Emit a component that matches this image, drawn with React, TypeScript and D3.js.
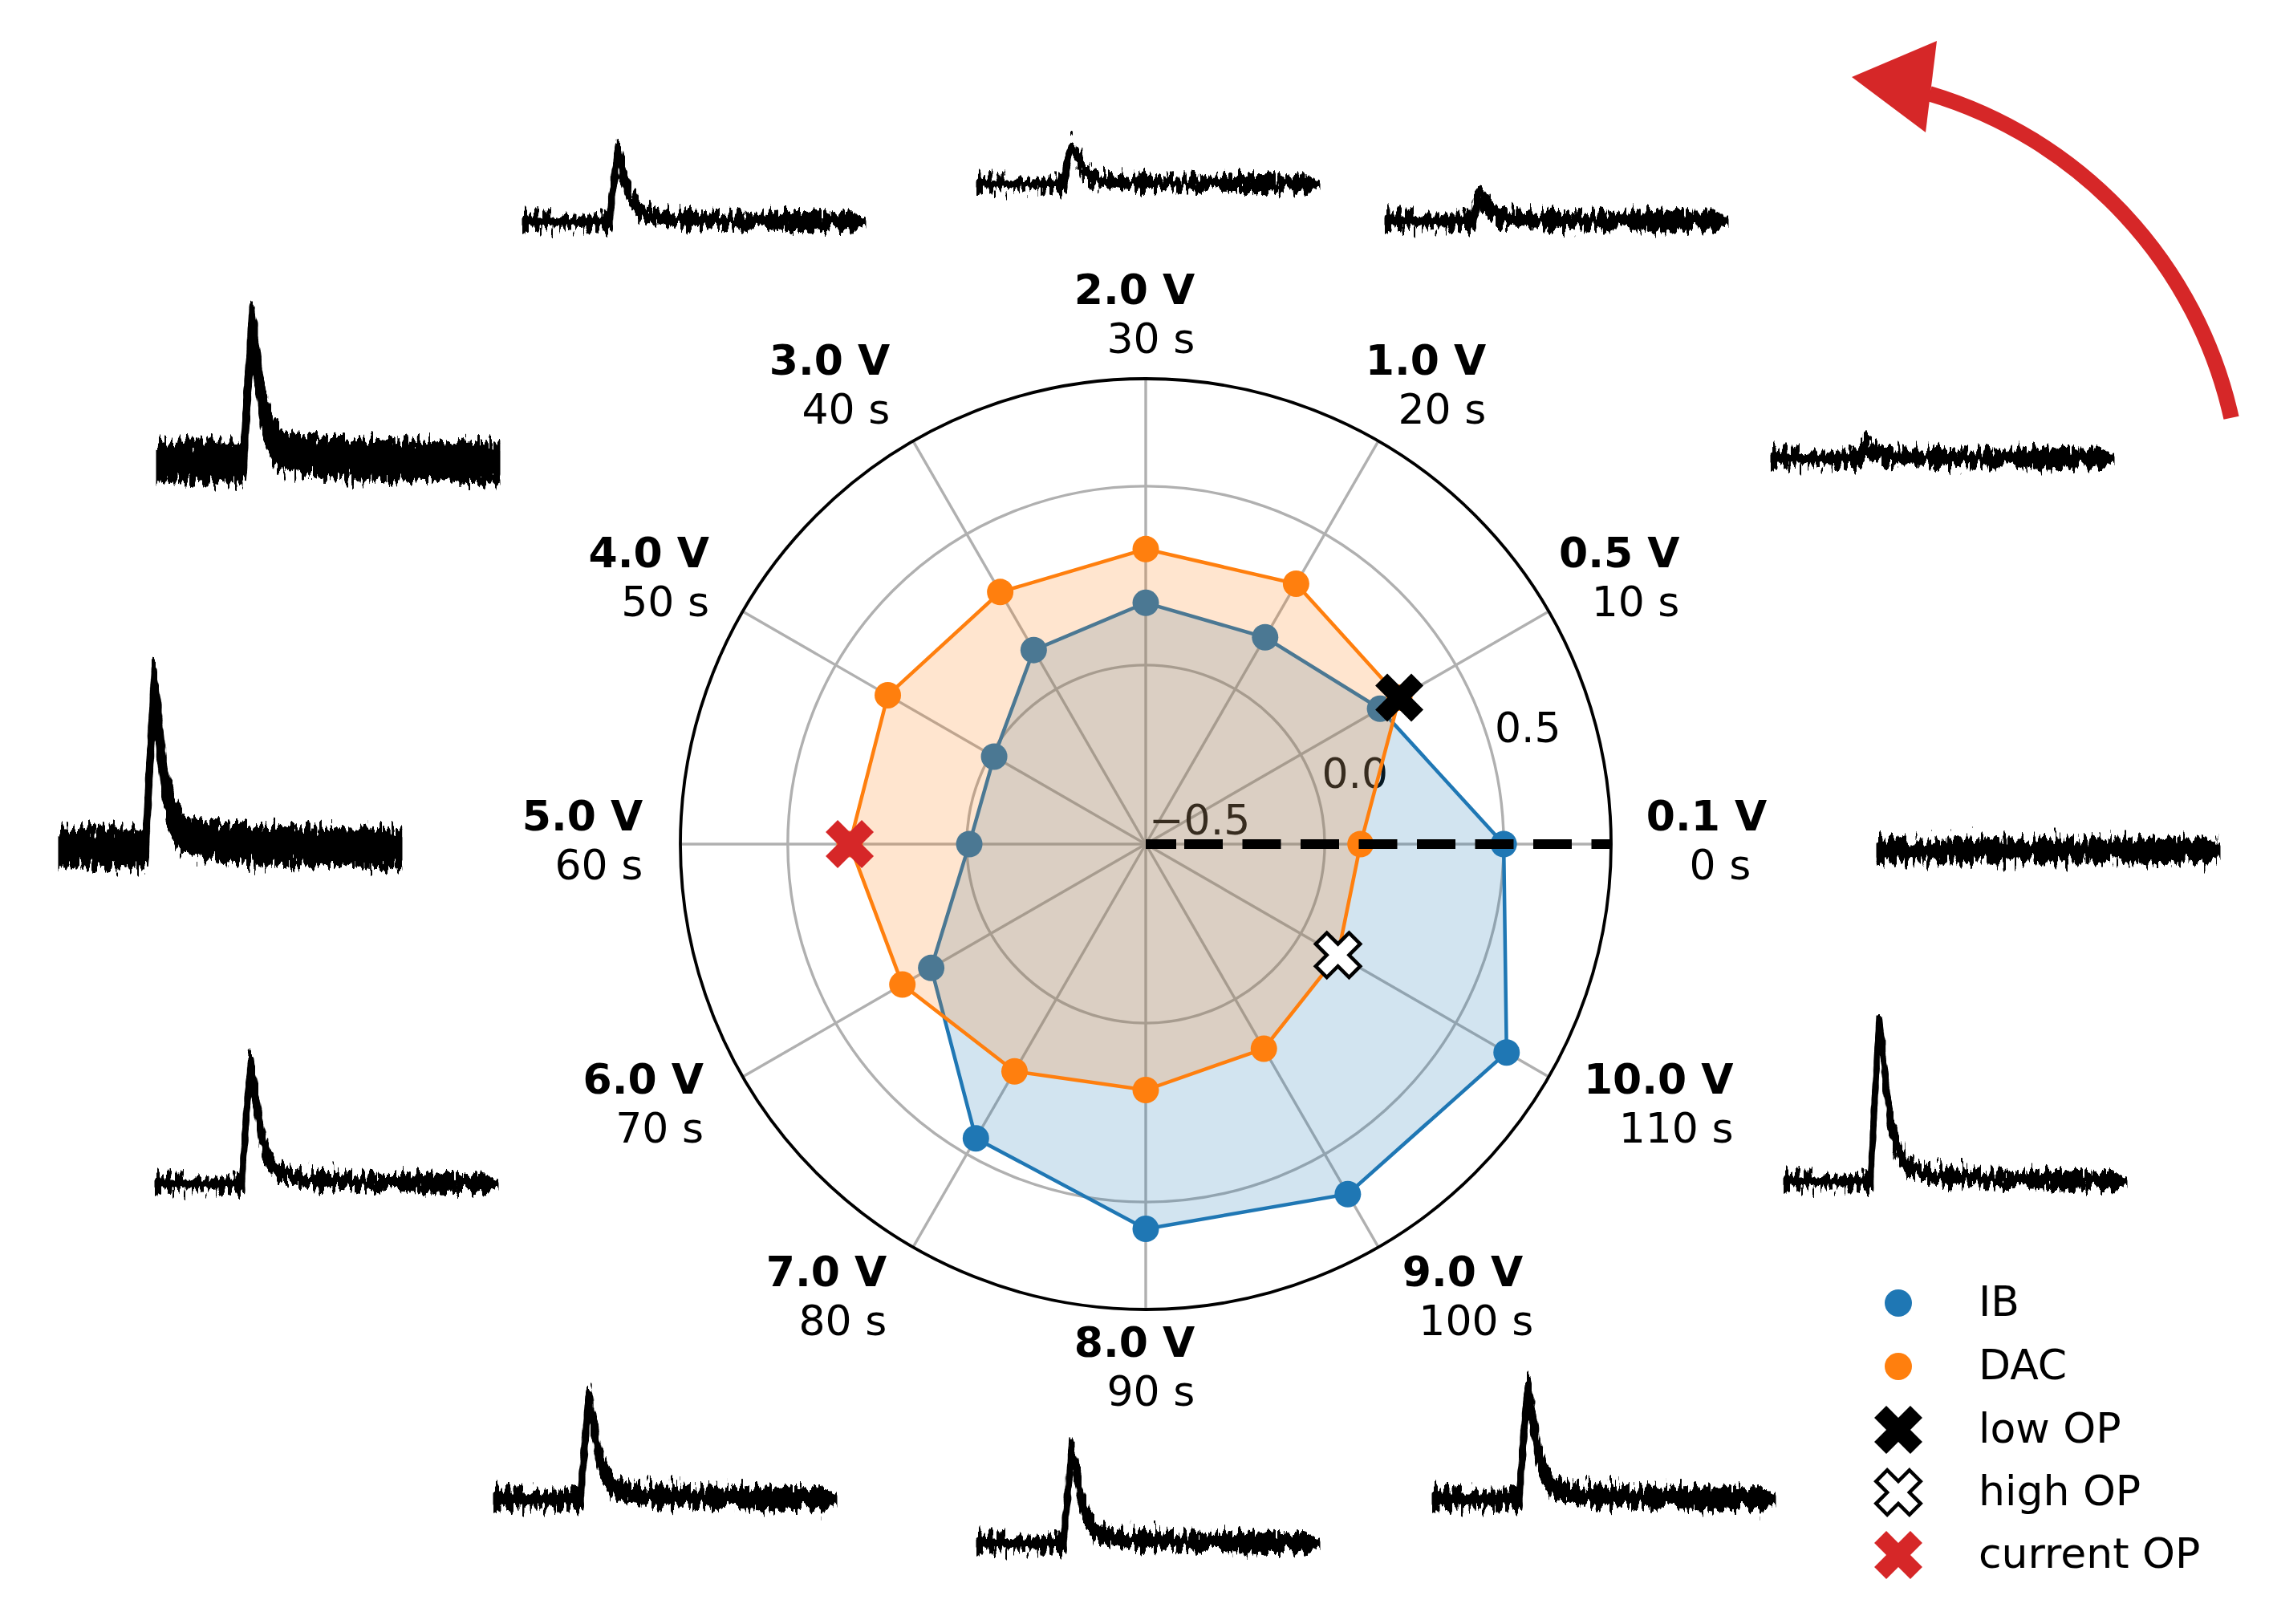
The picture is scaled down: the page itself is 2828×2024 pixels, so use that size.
import { useEffect, useRef } from "react";
import * as d3 from "d3";

// Catégories angulaires (sens trigonométrique depuis l'est)
const voltages = ["0.1 V", "0.5 V", "1.0 V", "2.0 V", "3.0 V", "4.0 V", "5.0 V", "6.0 V", "7.0 V", "8.0 V", "9.0 V", "10.0 V"];
const times = ["0 s", "10 s", "20 s", "30 s", "40 s", "50 s", "60 s", "70 s", "80 s", "90 s", "100 s", "110 s"];

// Séries radiales
const ibValues = [0.5, 0.256, 0.167, 0.174, 0.126, -0.011, -0.007, 0.192, 0.449, 0.575, 0.629, 0.664];
const dacValues = [0.1, 0.318, 0.34, 0.324, 0.313, 0.332, 0.327, 0.285, 0.233, 0.187, 0.16, 0.12];
const rTicks = [-0.5, 0.0, 0.5];
const rDomain = [-0.5, 0.8];

// Points de fonctionnement (index angulaire, valeur)
const opLabels = ["low OP", "high OP", "current OP"];
const opIndex = [1, 11, 6];
const opValues = [0.318, 0.12, 0.327];

// Traces (instants normalisés, amplitude par tension, bruit)
const traceTimes = [0, 0.25, 0.262, 0.275, 0.29, 0.308, 0.33, 0.355, 0.43, 0.6, 1];
const traceValues = [
  [0, 0, 0, 0, 0, 0, 0, 0, 0, 0, 0],
  [0, 0, 6, 13, 9, 5, 3, 1, 1, 0, 0],
  [0, 0, 16, 32, 23, 12, 6, 3, 1, 0, 0],
  [0, 0, 25, 49, 35, 19, 10, 4, 2, 1, 0],
  [0, 0, 45, 90, 65, 34, 18, 8, 4, 1, 0],
  [0, 0, 86, 172, 124, 65, 34, 15, 7, 3, 0],
  [0, 0, 101, 202, 145, 77, 40, 18, 8, 3, 0],
  [0, 0, 75, 150, 108, 57, 30, 14, 6, 2, 0],
  [0, 0, 62, 124, 89, 47, 25, 11, 5, 2, 0],
  [0, 0, 58, 116, 84, 44, 23, 10, 5, 2, 0],
  [0, 0, 68, 136, 98, 52, 27, 12, 5, 2, 0],
  [0, 0, 100, 200, 144, 76, 40, 18, 8, 3, 0]
];
const traceNoise = [12, 8, 8, 6, 7, 22, 21, 7, 10, 8, 10, 7];

// Mise en page
const W = 2828;
const H = 2024;
const cx = 1428;
const cy = 1052;
const R = 580;
const insetLeft = [2342, 2210, 1729, 1220, 654, 198, 76, 196, 618, 1220, 1788, 2226];
const insetBase = [1060, 571, 275, 229, 276, 576, 1057, 1475, 1868, 1923, 1868, 1472];
const insetWidth = 422;
const labelNudge = [-1, -16, -1, -14, -44, -13, -2, -20, -48, -14, 45, 33];
const secondLineNudge = [-20, 0, 0, 0, 0, 0, 0, 0, 0, 0, 13, 0];

const BLUE = "#1f77b4";
const ORANGE = "#ff7f0e";
const RED = "#d62728";
const GRID = "#b0b0b0";
const FONT = 52;

// Marqueur "X" façon matplotlib
function xMarkerPath(k: number) {
  const base = [[-1, -3], [1, -3], [1, -1], [3, -1], [3, 1], [1, 1], [1, 3], [-1, 3], [-1, 1], [-3, 1], [-3, -1], [-1, -1]];
  const c = Math.SQRT1_2;
  const pts = base.map(([x, y]) => [(x * c - y * c) * k, (x * c + y * c) * k]);
  return "M" + pts.map((p) => p.join(",")).join("L") + "Z";
}

export default function App() {
  const svgRef = useRef<SVGSVGElement>(null);

  useEffect(() => {
    if (!svgRef.current) return;
    document.body.style.margin = "0";
    const svg = d3.select(svgRef.current);
    svg.selectAll("*").remove();
    svg.style("font-family", "'DejaVu Sans', sans-serif");

    // Filtre de bruit : déplacement vertical seulement
    const defs = svg.append("defs");
    const filter = defs
      .append("filter")
      .attr("id", "traceNoise")
      .attr("x", "-3%")
      .attr("y", "-80%")
      .attr("width", "106%")
      .attr("height", "260%");
    filter
      .append("feTurbulence")
      .attr("type", "fractalNoise")
      .attr("baseFrequency", "0.22 0.05")
      .attr("numOctaves", 2)
      .attr("seed", 7)
      .attr("result", "t");
    filter
      .append("feColorMatrix")
      .attr("in", "t")
      .attr("type", "matrix")
      .attr("values", "0 0 0 0 0.5  0 1 0 0 0  0 0 1 0 0  0 0 0 0 1")
      .attr("result", "t2");
    filter
      .append("feDisplacementMap")
      .attr("in", "SourceGraphic")
      .attr("in2", "t2")
      .attr("scale", 38)
      .attr("xChannelSelector", "R")
      .attr("yChannelSelector", "G");

    const r = d3.scaleLinear().domain(rDomain).range([0, R]);
    const theta = (i: number) => (i * Math.PI) / 6;

    const g = svg.append("g").attr("transform", `translate(${cx},${cy})`);

    // Grille
    g.selectAll(".spoke")
      .data(voltages)
      .enter()
      .append("line")
      .attr("x1", 0)
      .attr("y1", 0)
      .attr("x2", (_, i) => R * Math.cos(theta(i)))
      .attr("y2", (_, i) => -R * Math.sin(theta(i)))
      .attr("stroke", GRID)
      .attr("stroke-width", 3.4);

    g.selectAll(".ring")
      .data(rTicks.filter((t) => r(t) > 0))
      .enter()
      .append("circle")
      .attr("r", (d) => r(d))
      .attr("fill", "none")
      .attr("stroke", GRID)
      .attr("stroke-width", 3.4);

    // Étiquettes radiales (à 15°)
    const rlAngle = (15 * Math.PI) / 180;
    g.selectAll(".rlabel")
      .data(rTicks)
      .enter()
      .append("text")
      .attr("x", (d) => r(d) * Math.cos(rlAngle) + 4)
      .attr("y", (d) => -r(d) * Math.sin(rlAngle) - 12)
      .style("font-size", `${FONT}px`)
      .attr("fill", "#000")
      .text((d) => d3.format(".1f")(d).replace("-", "\u2212"));

    const radial = d3
      .lineRadial<number>()
      .angle((_, i) => Math.PI / 2 - theta(i))
      .radius((d) => r(d))
      .curve(d3.curveLinearClosed);

    const drawSeries = (values: number[], color: string) => {
      g.append("path")
        .attr("d", radial(values) || "")
        .attr("fill", color)
        .attr("fill-opacity", 0.2)
        .attr("stroke", "none");
      g.append("path")
        .attr("d", radial(values) || "")
        .attr("fill", "none")
        .attr("stroke", color)
        .attr("stroke-width", 4.5);
      g.selectAll(null)
        .data(values)
        .enter()
        .append("circle")
        .attr("cx", (d, i) => r(d) * Math.cos(theta(i)))
        .attr("cy", (d, i) => -r(d) * Math.sin(theta(i)))
        .attr("r", 16.5)
        .attr("fill", color);
    };
    drawSeries(ibValues, BLUE);
    drawSeries(dacValues, ORANGE);

    // Ligne pointillée à 0°
    g.append("path")
      .attr("d", d3.line()([[0, 0], [38, 0]]) || "")
      .attr("stroke", "#000")
      .attr("stroke-width", 12);
    g.append("path")
      .attr("d", d3.line()([[48, 0], [R, 0]]) || "")
      .attr("stroke", "#000")
      .attr("stroke-width", 12)
      .attr("stroke-dasharray", "48 24.5");

    // Bord extérieur
    g.append("circle").attr("r", R).attr("fill", "none").attr("stroke", "#000").attr("stroke-width", 3.8);

    // Points de fonctionnement
    const opStyle = [
      { fill: "#000", stroke: "none", k: 10.6 },
      { fill: "#fff", stroke: "#000", k: 9.8 },
      { fill: RED, stroke: "none", k: 10.6 }
    ];
    opIndex.forEach((idx, j) => {
      const v = opValues[j];
      g.append("path")
        .attr("d", xMarkerPath(opStyle[j].k))
        .attr("transform", `translate(${r(v) * Math.cos(theta(idx))},${-r(v) * Math.sin(theta(idx))})`)
        .attr("fill", opStyle[j].fill)
        .attr("stroke", opStyle[j].stroke)
        .attr("stroke-width", 4.5)
        .attr("stroke-linejoin", "miter");
    });

    // Étiquettes angulaires
    voltages.forEach((v, i) => {
      const a = theta(i);
      const bx = cx + 700 * Math.cos(a) + labelNudge[i];
      const by = cy - 4 - 656 * Math.sin(a);
      const t1 = svg
        .append("text")
        .attr("y", by - 13)
        .attr("text-anchor", "end")
        .style("font-size", `${FONT}px`)
        .style("font-weight", "bold")
        .text(v);
      const t2 = svg
        .append("text")
        .attr("y", by + 48)
        .attr("text-anchor", "end")
        .style("font-size", `${FONT}px`)
        .text(times[i]);
      const w = Math.max(
        (t1.node() as SVGTextElement).getComputedTextLength(),
        (t2.node() as SVGTextElement).getComputedTextLength()
      );
      t1.attr("x", bx + w / 2);
      t2.attr("x", bx + w / 2 + secondLineNudge[i]);
    });

    // Traces insérées
    const tx = d3.scaleLinear().domain([0, 1]).range([0, insetWidth]);
    const ty = d3.scaleLinear().domain([0, 100]).range([0, -100]);
    traceValues.forEach((vals, i) => {
      const n = traceNoise[i];
      const area = d3
        .area<number>()
        .x((_, k) => tx(traceTimes[k]))
        .y0((d) => ty(d - n))
        .y1((d) => ty(d + n));
      svg
        .append("g")
        .attr("transform", `translate(${insetLeft[i]},${insetBase[i]})`)
        .attr("filter", "url(#traceNoise)")
        .append("path")
        .attr("d", area(vals) || "")
        .attr("fill", "#000")
        .attr("stroke", "#000")
        .attr("stroke-width", 7)
        .attr("stroke-linejoin", "round");
    });

    // Flèche rouge (sens de parcours)
    const arc = d3.path();
    const ac = [2249, 639];
    const ar = 545;
    const a0 = -0.2187;
    const a1 = -1.281;
    arc.moveTo(ac[0] + ar * Math.cos(a0), ac[1] + ar * Math.sin(a0));
    arc.arc(ac[0], ac[1], ar, a0, a1, true);
    svg.append("path").attr("d", arc.toString()).attr("fill", "none").attr("stroke", RED).attr("stroke-width", 19.5);
    svg
      .append("path")
      .attr("d", d3.line()([[2308, 96], [2414, 51], [2400, 165]]) + "Z")
      .attr("fill", RED);

    // Légende
    const legendX = 2366;
    const legendY = [1624, 1703, 1782, 1860, 1938];
    const legendLabels = ["IB", "DAC", ...opLabels];
    const lg = svg.append("g");
    lg.append("circle").attr("cx", legendX).attr("cy", legendY[0]).attr("r", 17).attr("fill", BLUE);
    lg.append("circle").attr("cx", legendX).attr("cy", legendY[1]).attr("r", 17).attr("fill", ORANGE);
    opStyle.forEach((s, j) => {
      lg.append("path")
        .attr("d", xMarkerPath(s.k))
        .attr("transform", `translate(${legendX},${legendY[j + 2]})`)
        .attr("fill", s.fill)
        .attr("stroke", s.stroke)
        .attr("stroke-width", 4.5);
    });
    lg.selectAll("text")
      .data(legendLabels)
      .enter()
      .append("text")
      .attr("x", 2466)
      .attr("y", (_, i) => legendY[i] + 16)
      .style("font-size", `${FONT}px`)
      .text((d) => d);
  }, []);

  return <svg ref={svgRef} width={W} height={H} style={{ display: "block", background: "#fff" }} />;
}
